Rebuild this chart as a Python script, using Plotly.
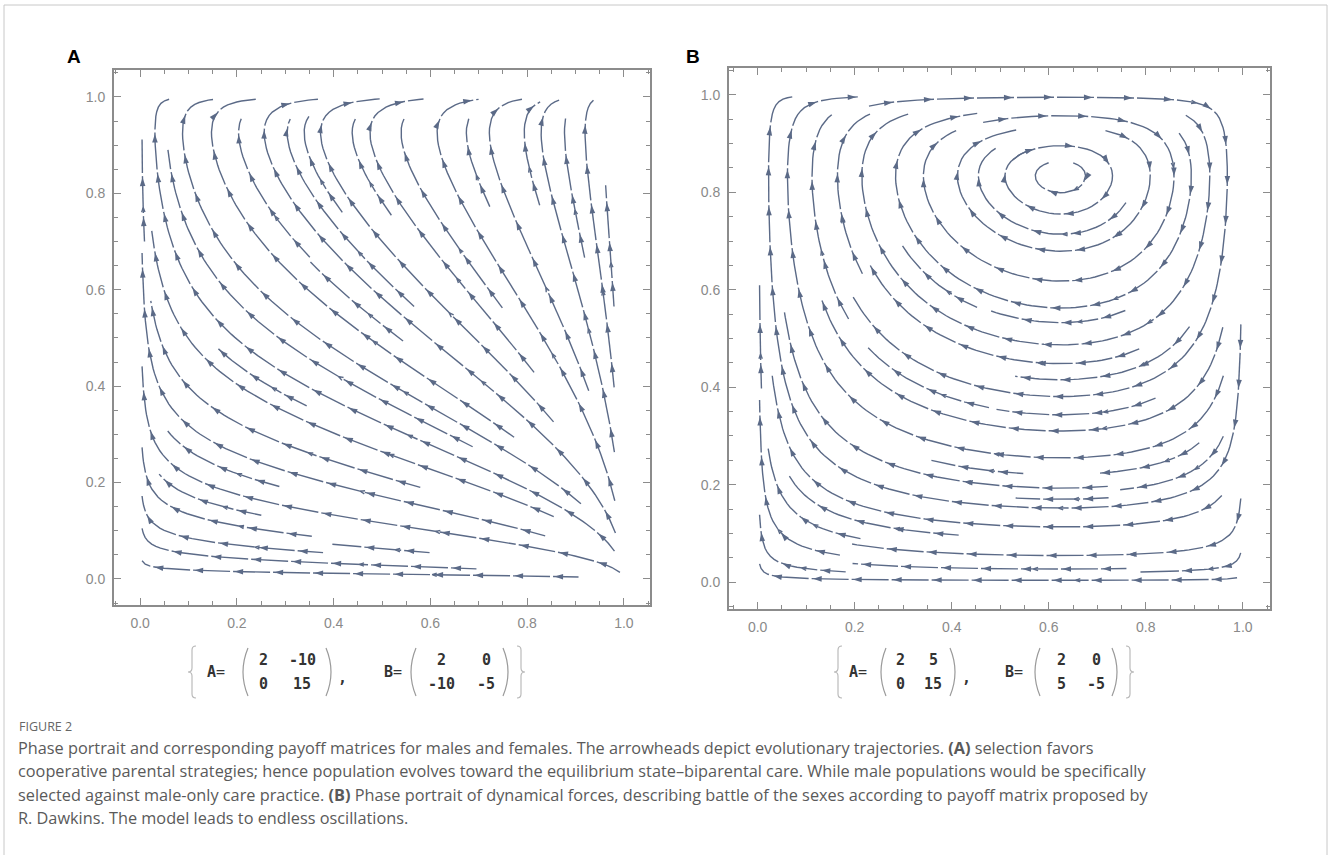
import warnings
import numpy as np
import plotly.graph_objects as go
import plotly.figure_factory as ff

warnings.filterwarnings("ignore")

W, H = 1328, 855

# ---- data: payoff matrices printed under each panel (rows = own strategy) ----
A_panelA = [[2, -10], [0, 15]]
B_panelA = [[2, 0], [-10, -5]]
A_panelB = [[2, 5], [0, 15]]
B_panelB = [[2, 0], [5, -5]]

panel_letters = ["A", "B"]
major_ticks = [0.0, 0.2, 0.4, 0.6, 0.8, 1.0]
major_labels = ["0.0", "0.2", "0.4", "0.6", "0.8", "1.0"]
minor_ticks = [-0.05, 0.05, 0.1, 0.15, 0.25, 0.3, 0.35, 0.45, 0.5, 0.55,
               0.65, 0.7, 0.75, 0.85, 0.9, 0.95, 1.05]

caption_title = "FIGURE 2"
caption_lines = [
    "Phase portrait and corresponding payoff matrices for males and females. The arrowheads depict evolutionary trajectories. <b>(A)</b> selection favors",
    "cooperative parental strategies; hence population evolves toward the equilibrium state\u2013biparental care. While male populations would be specifically",
    "selected against male-only care practice. <b>(B)</b> Phase portrait of dynamical forces, describing battle of the sexes according to payoff matrix proposed by",
    "R. Dawkins. The model leads to endless oscillations.",
]

LINE_COLOR = "#5b6a87"


def X(px):
    return px / W


def Y(py):
    return 1 - py / H


def replicator_field(A, B, n=61):
    s = np.linspace(0.004, 0.996, n)
    xx, yy = np.meshgrid(s, s)
    u = xx * (1 - xx) * ((A[0][0] - A[1][0]) * yy + (A[0][1] - A[1][1]) * (1 - yy))
    v = yy * (1 - yy) * ((B[0][0] - B[1][0]) * xx + (B[0][1] - B[1][1]) * (1 - xx))
    return s, u, v


def streamlines(A, B):
    s, u, v = replicator_field(A, B)
    with np.errstate(all="ignore"):
        sf = ff.create_streamline(s, s, u, v, density=1.05, arrow_scale=0.01)
    xs = sf.data[0].x
    ys = sf.data[0].y
    lines, cur = [], []
    for a, b in zip(xs, ys):
        if a is None or b is None or not np.isfinite(a) or not np.isfinite(b):
            if len(cur) > 2:
                lines.append(np.array(cur))
            cur = []
        else:
            cur.append((a, b))
    if len(cur) > 2:
        lines.append(np.array(cur))
    return lines


def decorate(lines, sx, sy, spacing=40.0, offset=24.0, gap=(1.5, 4.5)):
    """Arrowheads every `spacing` px along each streamline plus small breaks after them."""
    ax, ay, ang = [], [], []
    lx, ly = [], []
    for ln in lines:
        d = np.diff(ln, axis=0)
        dpx = np.column_stack([d[:, 0] * sx, d[:, 1] * sy])
        seg = np.hypot(dpx[:, 0], dpx[:, 1])
        cum = np.concatenate([[0], np.cumsum(seg)])
        total = cum[-1]
        if total < 8:
            continue
        marks = []
        if total >= 18:
            pos = offset if total > offset + 6 else total * 0.6
            while pos < total - 3:
                marks.append(pos)
                pos += spacing
        for pos in marks:
            i = np.searchsorted(cum, pos) - 1
            i = max(0, min(i, len(seg) - 1))
            ax.append(float(np.interp(pos, cum, ln[:, 0])))
            ay.append(float(np.interp(pos, cum, ln[:, 1])))
            ang.append(float(np.degrees(np.arctan2(dpx[i, 0], dpx[i, 1]))))
        keep, s_prev = [], 0.0
        for pos in marks:
            keep.append((s_prev, pos + gap[0]))
            s_prev = pos + gap[1]
        keep.append((s_prev, total))
        for a, b in keep:
            b = min(b, total)
            if b - a < 1.0:
                continue
            mask = (cum > a) & (cum < b)
            px = [np.interp(a, cum, ln[:, 0])] + list(ln[mask, 0]) + [np.interp(b, cum, ln[:, 0])]
            py = [np.interp(a, cum, ln[:, 1])] + list(ln[mask, 1]) + [np.interp(b, cum, ln[:, 1])]
            lx += [float(v) for v in px] + [None]
            ly += [float(v) for v in py] + [None]
    return lx, ly, ax, ay, ang


fig = go.Figure()

panels = [
    dict(A=A_panelA, B=B_panelA, xa="x", ya="y",
         frame=(114, 650, 70, 605), xr=[-0.054, 1.054], yr=[-0.054, 1.056]),
    dict(A=A_panelB, B=B_panelB, xa="x2", ya="y2",
         frame=(729, 1270, 68, 609), xr=[-0.059, 1.056], yr=[-0.055, 1.055]),
]

for p in panels:
    lines = streamlines(p["A"], p["B"])
    l, r, t, b = p["frame"]
    sx = (r - l) / (p["xr"][1] - p["xr"][0])
    sy = (b - t) / (p["yr"][1] - p["yr"][0])
    lx, ly, ax, ay, ang = decorate(lines, sx, sy)
    fig.add_trace(go.Scatter(x=lx, y=ly, mode="lines", xaxis=p["xa"], yaxis=p["ya"],
                             line=dict(color=LINE_COLOR, width=1.4),
                             hoverinfo="skip", showlegend=False))
    fig.add_trace(go.Scatter(x=ax, y=ay, mode="markers", xaxis=p["xa"], yaxis=p["ya"],
                             marker=dict(symbol="arrow", size=9, angle=ang,
                                         color=LINE_COLOR, line=dict(width=0)),
                             hoverinfo="skip", showlegend=False))

axis_common = dict(
    tickmode="array", tickvals=major_ticks, ticktext=major_labels,
    ticks="inside", ticklen=7, tickwidth=1.2, tickcolor="#8c8c8c",
    showline=True, linecolor="#8c8c8c", linewidth=1.8, mirror="allticks",
    showgrid=False, zeroline=False,
    minor=dict(tickvals=minor_ticks, ticks="inside", ticklen=4, tickwidth=1,
               tickcolor="#8c8c8c", showgrid=False),
    tickfont=dict(family="Liberation Sans", size=14, color="#8a8a8a"),
)

layout_axes = {}
for i, p in enumerate(panels):
    l, r, t, b = p["frame"]
    sfx = "" if i == 0 else str(i + 1)
    layout_axes["xaxis" + sfx] = dict(axis_common, domain=[X(l), X(r)], range=p["xr"],
                                      anchor="y" + sfx, ticklabelstandoff=4)
    layout_axes["yaxis" + sfx] = dict(axis_common, domain=[Y(b), Y(t)], range=p["yr"],
                                      anchor="x" + sfx, ticklabelstandoff=4)

fig.update_layout(
    width=W, height=H, margin=dict(l=0, r=0, t=0, b=0),
    paper_bgcolor="white", plot_bgcolor="white", showlegend=False,
    **layout_axes,
)

ann = []
shapes = []

# outer frame (bottom edge lies outside the page)
shapes.append(dict(type="rect", xref="paper", yref="paper", x0=X(4), x1=X(1327), y0=Y(870), y1=Y(5),
                   line=dict(color="#c8c8c8", width=1), fillcolor="rgba(0,0,0,0)", layer="below"))

# panel letters
for letter, px in zip(panel_letters, [74, 693]):
    ann.append(dict(x=X(px), y=Y(56), xref="paper", yref="paper", text="<b>%s</b>" % letter,
                    showarrow=False, xanchor="center", yanchor="middle",
                    font=dict(family="Liberation Sans", size=19, color="black")))


def fmt(v):
    return ("-" + str(abs(v))) if v < 0 else str(v)


def paren(xc, left, ytop=648, ybot=696, bulge=5):
    xe = xc + (bulge if left else -bulge)
    xm = xc - (bulge if left else -bulge)
    return dict(type="path", xref="paper", yref="paper",
                path="M %f,%f Q %f,%f %f,%f" % (X(xe), Y(ytop), X(xm), Y((ytop + ybot) / 2), X(xe), Y(ybot)),
                line=dict(color="#9a9a9a", width=1.2))


def brace(xc, left, ytop=646, ybot=698):
    sgn = 1 if left else -1
    ym = (ytop + ybot) / 2
    pts = [(xc + 4 * sgn, ytop), (xc, ytop + 4), (xc, ym - 4), (xc - 4 * sgn, ym),
           (xc, ym + 4), (xc, ybot - 4), (xc + 4 * sgn, ybot)]
    path = "M %f,%f Q %f,%f %f,%f L %f,%f Q %f,%f %f,%f Q %f,%f %f,%f L %f,%f Q %f,%f %f,%f" % (
        X(pts[0][0]), Y(pts[0][1]), X(xc), Y(ytop), X(pts[1][0]), Y(pts[1][1]),
        X(pts[2][0]), Y(pts[2][1]), X(xc), Y(ym), X(pts[3][0]), Y(pts[3][1]),
        X(xc), Y(ym), X(pts[4][0]), Y(pts[4][1]), X(pts[5][0]), Y(pts[5][1]),
        X(xc), Y(ybot), X(pts[6][0]), Y(pts[6][1]))
    return dict(type="path", xref="paper", yref="paper", path=path,
                line=dict(color="#b5b5b5", width=1.1))


mono = dict(family="DejaVu Sans Mono", size=15, color="#333333")


def txt(px, py, s, font=mono, xanchor="center"):
    ann.append(dict(x=X(px), y=Y(py), xref="paper", yref="paper", text=s, showarrow=False,
                    xanchor=xanchor, yanchor="middle", font=font))


matrix_layouts = [
    dict(A=A_panelA, B=B_panelA, lbrace=192, Aeq=216, Ap=(243, 331), Acol=(263, 302),
         comma=342, Beq=393, Bp=(411, 508), Bcol=(441, 486), rbrace=521),
    dict(A=A_panelB, B=B_panelB, lbrace=838, Aeq=858, Ap=(881, 955), Acol=(900, 933),
         comma=966, Beq=1014, Bp=(1035, 1117), Bcol=(1061, 1096), rbrace=1130),
]

for m in matrix_layouts:
    shapes.append(brace(m["lbrace"], True))
    shapes.append(brace(m["rbrace"], False))
    txt(m["Aeq"], 672, "<b>A</b>=")
    txt(m["Beq"], 672, "<b>B</b>=")
    txt(m["comma"], 678, "<b>,</b>")
    for (pl, pr), cols, M in [(m["Ap"], m["Acol"], m["A"]), (m["Bp"], m["Bcol"], m["B"])]:
        shapes.append(paren(pl, True))
        shapes.append(paren(pr, False))
        for ri, rowy in enumerate([660, 684]):
            for ci in range(2):
                txt(cols[ci], rowy, "<b>%s</b>" % fmt(M[ri][ci]))

# caption
ann.append(dict(x=X(17), y=Y(726), xref="paper", yref="paper", text=caption_title, showarrow=False,
                xanchor="left", yanchor="middle",
                font=dict(family="Open Sans", size=12.5, color="#666666")))
for i, line in enumerate(caption_lines):
    ann.append(dict(x=X(16), y=Y(748 + 23.3 * i), xref="paper", yref="paper", text=line,
                    showarrow=False, xanchor="left", yanchor="middle", align="left",
                    font=dict(family="Open Sans", size=16.3, color="#5a5a5a")))

fig.update_layout(annotations=ann, shapes=shapes)
fig.write_html("out.html", config={"displayModeBar": False},
               post_script="document.body.style.margin='0';document.body.style.overflow='hidden';")
